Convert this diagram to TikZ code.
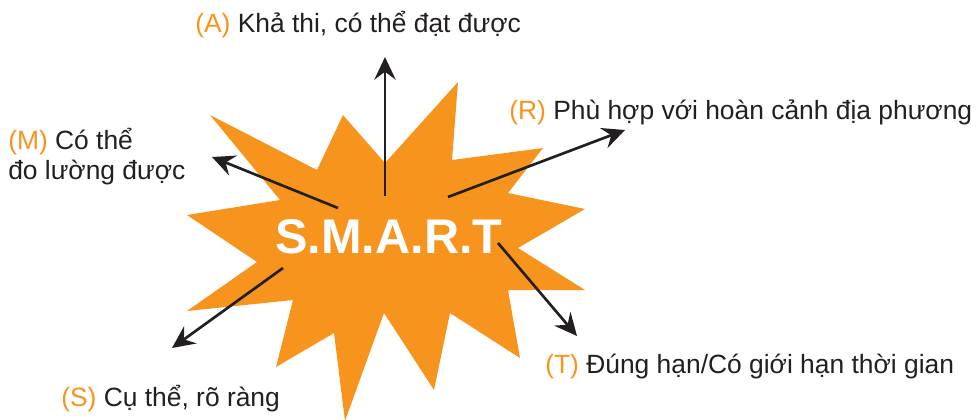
\documentclass[tikz,border=0pt]{standalone}
\usepackage{fontspec}
\setmainfont{Liberation Sans}
\usetikzlibrary{arrows.meta}
\definecolor{burst}{HTML}{F7941D}
\definecolor{ink}{HTML}{231F20}
\newcommand{\lettertag}[1]{\textcolor{burst}{(#1)}}
\tikzset{
  lbl/.style={anchor=base west,inner sep=0pt,text=ink,font=\fontsize{19.8}{22.5}\selectfont},
  pointer/.style={ink,line width=2pt,-{Stealth[length=17pt,width=16pt,inset=6pt]}}
}

\begin{document}
\begin{tikzpicture}[x=0.75pt,y=-0.75pt]
  \useasboundingbox (0,0) rectangle (977,419);
  % the burst
  \fill[burst] (210,115) -- (317,170) -- (343,115) -- (385,163) -- (458,82) -- (452,160)
    -- (543,148) -- (508,193) -- (585,209) -- (518,248) -- (585,290) -- (508,290)
    -- (520,358) -- (450,313) -- (434,390) -- (384,313) -- (345,421) -- (334,333)
    -- (276,367) -- (293,300) -- (187,311) -- (257,262) -- (187,215) -- (280,200) -- cycle;
  \node[anchor=base,inner sep=0pt,text=white,font=\fontsize{36.5}{40}\selectfont\bfseries] (smart) at (389,253) {S.M.A.R.T};

  \node[lbl] (amark) at (195,32) {\lettertag{A} Khả thi, có thể đạt được};
  \node[lbl] (rmark) at (509,119) {\lettertag{R} Phù hợp với hoàn cảnh địa phương};
  \node[lbl,align=left] (mmark) at (8,179) {\lettertag{M} Có thể\\đo lường được};
  \node[lbl] (tmark) at (545,373) {\lettertag{T} Đúng hạn/Có giới hạn thời gian};
  \node[lbl] (smark) at (61,406) {\lettertag{S} Cụ thể, rõ ràng};

  \coordinate (a0) at (385,196); \coordinate (a1) at (385,57);
  \coordinate (m0) at (338,208); \coordinate (m1) at (212,157);
  \coordinate (r0) at (448,197); \coordinate (r1) at (625,130);
  \coordinate (s0) at (283,268); \coordinate (s1) at (172,348);
  \coordinate (t0) at (498,243); \coordinate (t1) at (577,336);
  \draw[pointer] (a0) -- (a1);
  \draw[pointer] (m0) -- (m1);
  \draw[pointer] (r0) -- (r1);
  \draw[pointer] (s0) -- (s1);
  \draw[pointer] (t0) -- (t1);
\end{tikzpicture}
\end{document}
